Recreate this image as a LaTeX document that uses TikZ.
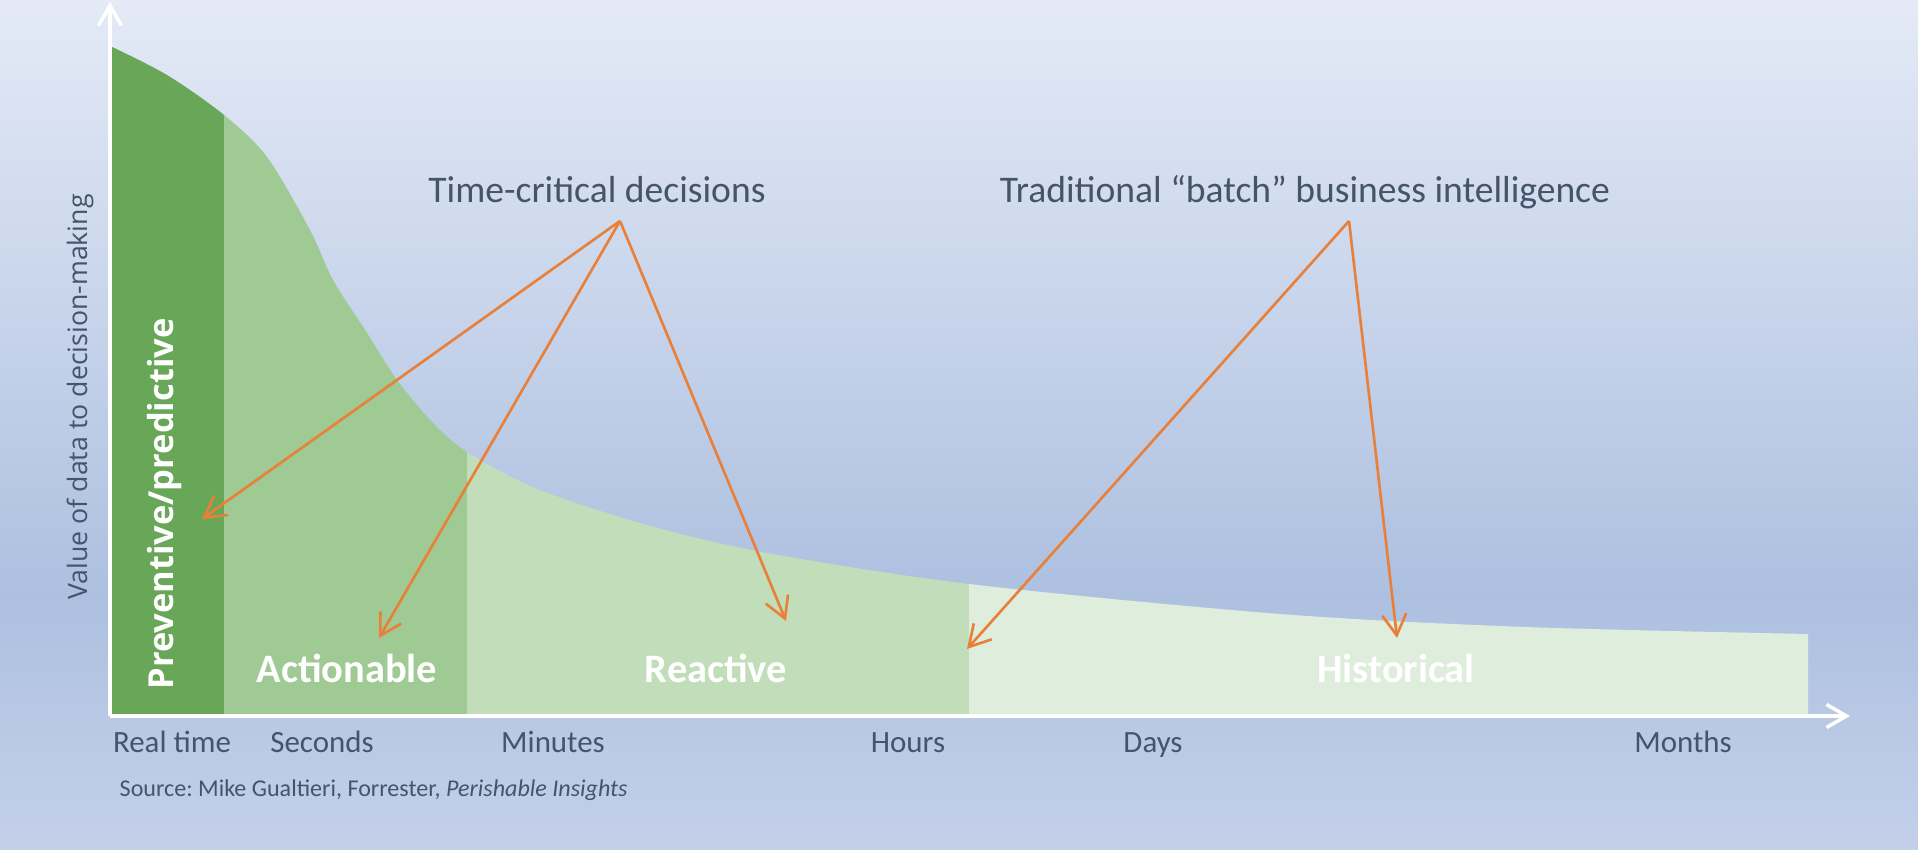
\documentclass[tikz,border=0pt]{standalone}
\usepackage{fontspec}
\setmainfont{Carlito}
\newfontfamily\opensans{Open Sans}
\usetikzlibrary{arrows.meta}

\definecolor{bgtop}{HTML}{E4EAF6}
\definecolor{bgdark}{HTML}{ADC0E0}
\definecolor{bgbot}{HTML}{C4D0EA}
\definecolor{prevgreen}{HTML}{68A758}
\definecolor{actgreen}{HTML}{A0CA94}
\definecolor{reactgreen}{HTML}{C1DDBA}
\definecolor{histgreen}{HTML}{DFEDDC}
\definecolor{slate}{HTML}{44546A}
\definecolor{callorange}{HTML}{E8803A}

\pgfdeclareverticalshading{bgshade}{100bp}{color(0bp)=(bgbot); color(25bp)=(bgbot); color(40bp)=(bgdark); color(75bp)=(bgtop); color(100bp)=(bgtop)}

\frenchspacing

\begin{document}
\begin{tikzpicture}
  \tikzset { axis/.style = { draw=white, line width=1pt, -{Straight Barb[length=2mm,width=2.3mm]} } }
  \tikzset { callout/.style = { draw=callorange, line width=0.75pt, -{Straight Barb[length=2.1mm,width=2.4mm]} } }
  \tikzset { tick/.style = { text=slate, font=\fontsize{8.8}{10}\selectfont, anchor=base } }
  \tikzset { zone/.style = { text=white, font=\fontsize{11.5}{13}\selectfont\bfseries, anchor=base } }
  \tikzset { heading/.style = { text=slate, font=\fontsize{10.7}{12}\selectfont, anchor=base } }

  \useasboundingbox (0,0) rectangle (19.18,8.5);
  \shade[shading=bgshade] (0,0) rectangle (19.18,8.5);

  % value curve, one colour per zone
  \foreach \xa/\xb/\col in {1.10/2.24/prevgreen, 2.24/4.67/actgreen, 4.67/9.69/reactgreen, 9.69/18.08/histgreen} {
    \begin{scope}
      \clip (\xa,0) rectangle (\xb,9);
      \fill[\col] (1.10,1.32) -- plot[smooth] coordinates {(1.10,8.04) (1.67,7.75) (2.24,7.35) (2.67,6.93) (3.10,6.20) (3.33,5.70) (3.67,5.17) (3.97,4.70) (4.33,4.27) (4.67,3.98) (5.35,3.62) (6.40,3.27) (7.62,2.98) (9.69,2.66) (12.80,2.36) (15.25,2.23) (18.08,2.16)} -- (18.08,1.32) -- cycle;
    \end{scope}
  }

  \coordinate (origin) at (1.10,1.34);
  \coordinate (ytip) at (1.10,8.48);
  \coordinate (xtip) at (18.50,1.34);
  \draw[axis] (origin) -- (ytip);
  \draw[axis] (origin) -- (xtip);

  \node[text=slate, font=\opensans\fontsize{7.6}{9}\selectfont, rotate=90] (ylabel) at (0.80,4.53) {Value of data to decision-making};

  \foreach \x/\lbl [count=\i] in {1.72/Real time, 3.22/Seconds, 5.53/Minutes, 9.08/Hours, 11.53/Days, 16.83/Months}
    \node[tick] (tick\i) at (\x,0.97) {\lbl};

  \node[zone, font=\opensans\fontsize{9.8}{11}\selectfont\bfseries, rotate=90, anchor=center] (prev) at (1.65,3.46) {Preventive/predictive};
  \node[zone] (act) at (3.47,1.67) {Actionable};
  \node[zone] (react) at (7.16,1.67) {Reactive};
  \node[zone] (hist) at (13.96,1.67) {Historical};

  \node[heading] (tcd) at (5.97,6.47) {Time-critical decisions};
  \node[heading] (tbi) at (13.05,6.47) {Traditional “batch” business intelligence};

  \node[text=slate, font=\fontsize{6.85}{8}\selectfont, anchor=base west, inner sep=0pt] (source) at (1.19,0.53) {Source: Mike Gualtieri, Forrester, \textit{Perishable Insights}};

  % callout arrows
  \coordinate (tcdfork) at (6.20,6.29);
  \coordinate (tbifork) at (13.49,6.29);
  \coordinate (toprev) at (2.02,3.31);
  \coordinate (toact) at (3.79,2.12);
  \coordinate (toreact) at (7.86,2.29);
  \coordinate (tohours) at (9.67,2.01);
  \coordinate (tohist) at (13.97,2.12);

  \draw[callout] (tcdfork) -- (toprev);
  \draw[callout] (tcdfork) -- (toact);
  \draw[callout] (tcdfork) -- (toreact);
  \draw[callout] (tbifork) -- (tohours);
  \draw[callout] (tbifork) -- (tohist);
\end{tikzpicture}
\end{document}
